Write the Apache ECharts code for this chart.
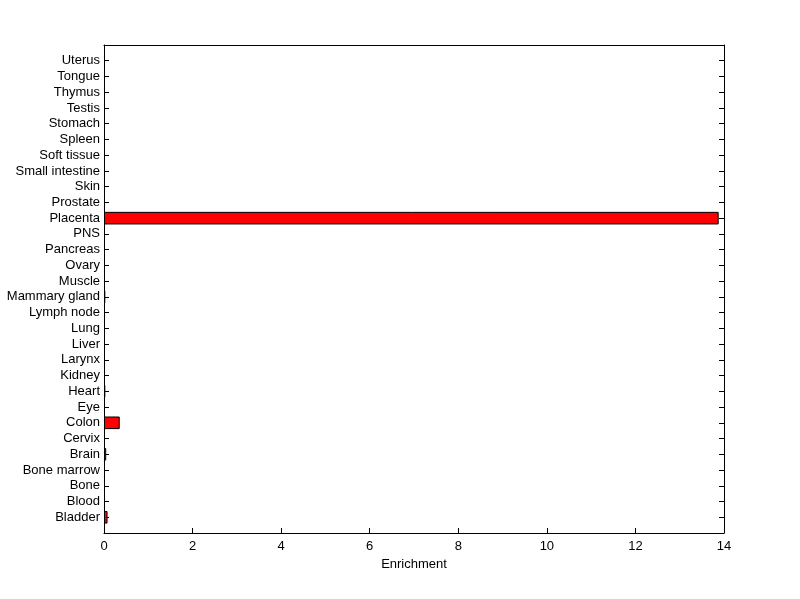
<!DOCTYPE html>
<html><head><meta charset="utf-8">
<script src="https://cdn.jsdelivr.net/npm/echarts@6/dist/echarts.min.js"></script>
<style>html,body{margin:0;padding:0;background:#fff}#c{width:800px;height:599px}</style>
</head><body><div id="c"></div>
<script>
const categories = ['Bladder','Blood','Bone','Bone marrow','Brain','Cervix','Colon','Eye','Heart','Kidney','Larynx','Liver','Lung','Lymph node','Mammary gland','Muscle','Ovary','Pancreas','PNS','Placenta','Prostate','Skin','Small intestine','Soft tissue','Spleen','Stomach','Testis','Thymus','Tongue','Uterus'];
const enrichment = [0.08,0,0,0,0.05,0,0.355,0,0.03,0,0,0,0,0,0.03,0,0,0,0,13.88,0,0,0,0,0,0,0,0,0,0];
const xTicks = [0,2,4,6,8,10,12,14];

const cats = [''].concat(categories, ['']);
const vals = [null].concat(enrichment.map(v => v === 0 ? null : v), [null]);
const font = 'Liberation Sans, Arial, sans-serif';
const chart = echarts.init(document.getElementById('c'));
const lineStyle = {color:'#000', width:1};
chart.setOption({
  backgroundColor:'#fff',
  animation:false,
  grid:{left:104, right:76, top:45, bottom:66},
  xAxis:[
    {type:'value', min:xTicks[0], max:xTicks[xTicks.length-1], interval:2, position:'bottom',
     name:'Enrichment', nameLocation:'middle', nameGap:23,
     nameTextStyle:{color:'#000', fontFamily:font, fontSize:13},
     axisLine:{show:true, onZero:false, lineStyle}, axisTick:{show:true, inside:true, length:5, lineStyle},
     axisLabel:{color:'#000', fontFamily:font, fontSize:13, margin:7}, splitLine:{show:false}},
    {type:'value', min:0, max:14, interval:2, position:'top',
     axisLine:{show:true, onZero:false, lineStyle}, axisTick:{show:false},
     axisLabel:{show:false}, splitLine:{show:false}}
  ],
  yAxis:[
    {type:'category', data:cats, boundaryGap:false, position:'left',
     axisLine:{show:true, onZero:false, lineStyle}, axisTick:{show:true, inside:true, length:5, lineStyle, interval:0},
     axisLabel:{color:'#000', fontFamily:font, fontSize:13, margin:4, interval:0}},
    {type:'category', data:cats, boundaryGap:false, position:'right',
     axisLine:{show:true, onZero:false, lineStyle}, axisTick:{show:true, inside:true, length:5, lineStyle, interval:0},
     axisLabel:{show:false}}
  ],
  series:[{
    type:'bar', xAxisIndex:0, yAxisIndex:0, data:vals, barWidth:'80%',
    itemStyle:{color:'#ff0000', borderColor:'#000', borderWidth:1}
  }]
});
</script></body></html>
